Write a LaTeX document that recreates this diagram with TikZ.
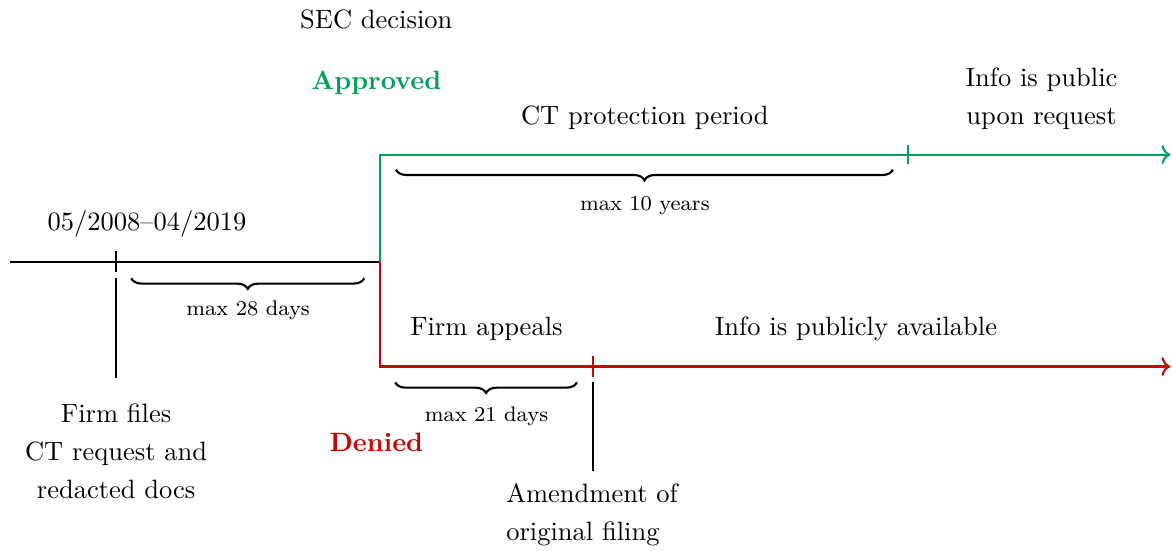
\documentclass[tikz,border=0pt]{standalone}
\usepackage{xcolor}
\usepackage{tikz}
\usetikzlibrary{decorations.pathreplacing,positioning,arrows.meta}
\definecolor{okgreen}{HTML}{00A05A}
\definecolor{nored}{HTML}{D00000}
\tikzset{
  base/.style={draw=black, thick},
  appr/.style={draw=okgreen, thick},
  deny/.style={draw=nored, thick},
  brc/.style={draw=black, thick, decorate, decoration={brace, mirror, amplitude=4pt}},
  lab/.style={font=\linespread{1.2}\selectfont, align=center},
  labs/.style={font=\footnotesize},
}

\begin{document}
\begin{tikzpicture}
\useasboundingbox (-5.04,-3.83) rectangle (10.5,3.47);
% points on the timeline
\coordinate (start) at (-4.91,0);
\coordinate (filed) at (-3.5,0);
\coordinate (filedlow) at (-3.5,-1.54);
\coordinate (dec) at (0,0);
\coordinate (up) at (0,1.42);
\coordinate (down) at (0,-1.39);
\coordinate (ctend) at (7,1.42);
\coordinate (upend) at (10.48,1.42);
\coordinate (amend) at (2.82,-1.39);
\coordinate (amendlow) at (2.82,-2.78);
\coordinate (downend) at (10.48,-1.39);

% main lines
\draw[base] (start) -- (dec);
\draw[appr,->] (dec) -- (up) -- (upend);
\draw[deny,->] (dec) -- (down) -- (downend);

% ticks
\draw[base] ([yshift=-0.14cm]filed) -- ([yshift=0.14cm]filed);
\draw[appr] ([yshift=-0.13cm]ctend) -- ([yshift=0.13cm]ctend);
\draw[deny] ([yshift=-0.14cm]amend) -- ([yshift=0.14cm]amend);
\draw[base] ([yshift=-0.21cm]filed) -- (filedlow);
\draw[base] ([yshift=-0.21cm]amend) -- (amendlow);

% braces
\draw[brc] (-3.3,-0.22) -- (-0.21,-0.22);
\draw[brc] (0.21,1.22) -- (6.8,1.22);
\draw[brc] (0.2,-1.6) -- (2.61,-1.6);
\node[labs] (d28) at (-1.75,-0.65) {max 28 days};
\node[labs] (y10) at (3.51,0.75) {max 10 years};
\node[labs] (d21) at (1.41,-2.05) {max 21 days};

% labels
\node[lab] (sec) at (-0.05,3.21) {SEC decision};
\node[lab, text=okgreen, font=\bfseries] (ok) at (-0.05,2.37) {Approved};
\node[lab, text=nored, font=\bfseries] (no) at (-0.05,-2.39) {Denied};
\node[lab] (period) at (3.51,1.91) {CT protection period};
\node[lab] (pub) at (8.77,2.16) {Info is public\\upon request};
\node[lab] (dates) at (-3.09,0.50) {05/2008--04/2019};
\node[lab] (appeal) at (1.41,-0.89) {Firm appeals};
\node[lab] (avail) at (6.31,-0.89) {Info is publicly available};
\node[lab] (files) at (-3.5,-2.51) {Firm files\\CT request and\\redacted docs};
\node[lab, align=left] (amendtxt) at (2.81,-3.36) {Amendment of\\original filing};
\end{tikzpicture}
\end{document}
